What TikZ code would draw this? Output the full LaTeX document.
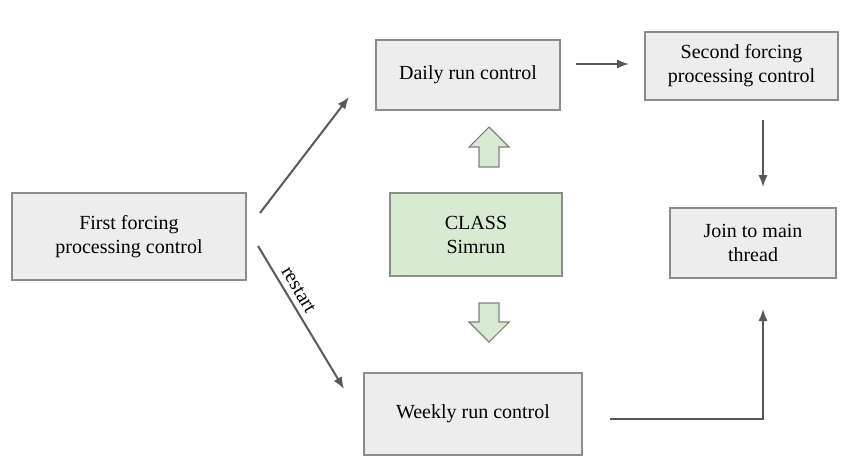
\documentclass[tikz,border=0pt]{standalone}
\usepackage{fontspec}
\setmainfont{Liberation Serif}
\usetikzlibrary{arrows.meta}
\begin{document}
\begin{tikzpicture}[x=0.75pt,y=-0.75pt,
  txt/.style={font=\rmfamily\fontsize{15}{18}\selectfont},
  box/.style={txt,draw=black!45,fill=black!7,line width=0.9pt,align=center,inner sep=0pt},
  gbox/.style={box,fill={rgb,255:red,217;green,234;blue,211}},
  conn/.style={draw=black!65,line width=1.5pt,-{Latex[length=9pt,width=7pt]}},
  blk/.style={draw=black!50,fill={rgb,255:red,217;green,234;blue,211},line width=0.8pt}]
\useasboundingbox (0,0) rectangle (852,461);
\node[box,minimum width=234*0.75pt,minimum height=87*0.75pt] (first) at (129,236.5) {First forcing\\processing control};
\node[box,minimum width=184*0.75pt,minimum height=70*0.75pt] (daily) at (468,75) {Daily run control};
\node[box,minimum width=193*0.75pt,minimum height=68*0.75pt] (second) at (741.5,66) {Second forcing\\processing control};
\node[gbox,minimum width=172*0.75pt,minimum height=83*0.75pt] (class) at (476,234.5) {CLASS\\Simrun};
\node[box,minimum width=166*0.75pt,minimum height=70*0.75pt] (join) at (753,243) {Join to main\\thread};
\node[box,minimum width=218*0.75pt,minimum height=82*0.75pt] (weekly) at (473,414) {Weekly run control};
\coordinate (a1s) at (260,213);
\coordinate (a1e) at (349,97);
\coordinate (a2s) at (258,246);
\coordinate (a2e) at (344,389);
\coordinate (a3s) at (576,64);
\coordinate (a3e) at (629,64);
\coordinate (a4s) at (763,120);
\coordinate (a4e) at (763,187);
\coordinate (a5s) at (610,419);
\coordinate (a5e) at (763,309);
\draw[conn] (a1s) -- (a1e);
\draw[conn] (a2s) -- node[pos=0.35,sloped,above,txt,inner sep=4pt] (rl) {restart} (a2e);
\draw[conn] (a3s) -- (a3e);
\draw[conn] (a4s) -- (a4e);
\draw[conn] (a5s) -| (a5e);
\draw[blk] (489,127) -- (509,147) -- (499,147) -- (499,167) -- (479,167) -- (479,147) -- (469,147) -- cycle;
\draw[blk] (489,342) -- (509,322) -- (499,322) -- (499,303) -- (479,303) -- (479,322) -- (469,322) -- cycle;
\end{tikzpicture}
\end{document}
